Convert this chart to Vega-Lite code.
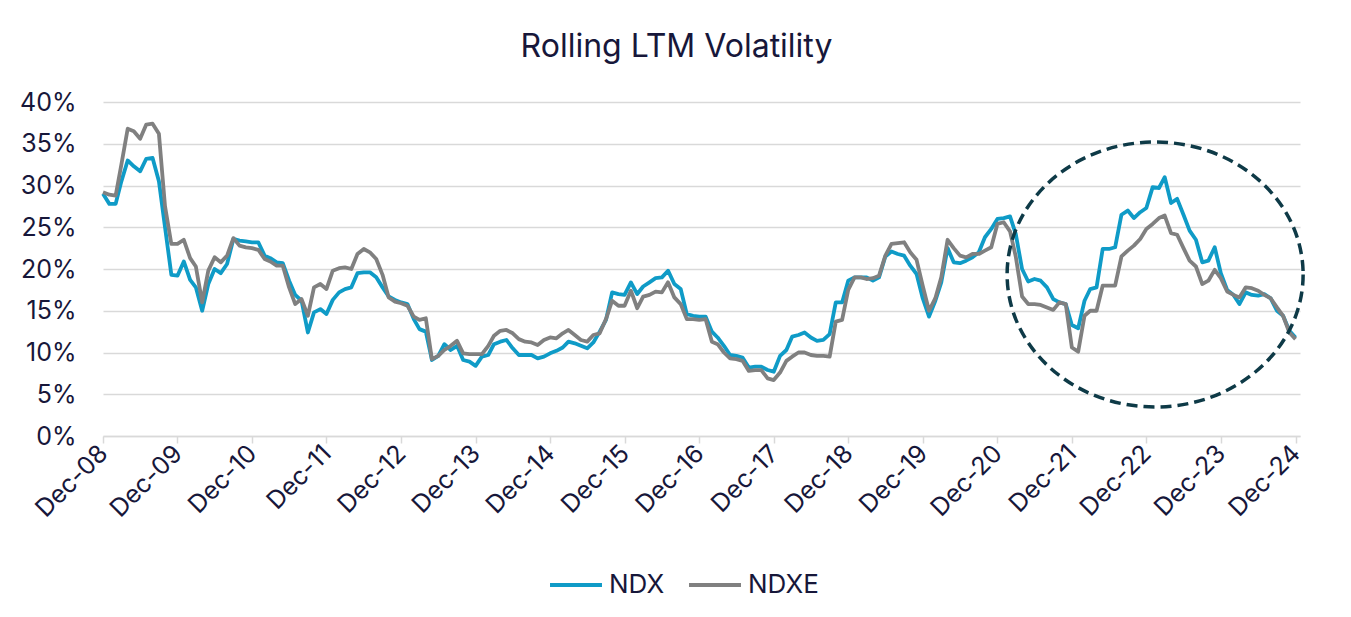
{
"$schema":"https://vega.github.io/schema/vega-lite/v6.json",
"width":1197,"height":334,
"autosize":{"type":"none"},
"padding":{"left":103,"top":102,"right":51,"bottom":181},
"background":"white",
"config":{"view":{"stroke":null},"font":"Inter"},
"title":{"text":"Rolling LTM Volatility","fontSize":32,"fontWeight":"normal","color":"#17173a","anchor":"middle","dx":-25,"offset":26,"font":"Inter"},
"layer":[
{"data":{"values":[
{"date":"2008-12-01","NDX":29.0,"NDXE":29.2},
{"date":"2009-01-01","NDX":27.8,"NDXE":28.9},
{"date":"2009-02-01","NDX":27.8,"NDXE":28.8},
{"date":"2009-03-01","NDX":30.5,"NDXE":32.5},
{"date":"2009-04-01","NDX":33.0,"NDXE":36.8},
{"date":"2009-05-01","NDX":32.3,"NDXE":36.5},
{"date":"2009-06-01","NDX":31.7,"NDXE":35.6},
{"date":"2009-07-01","NDX":33.2,"NDXE":37.3},
{"date":"2009-08-01","NDX":33.3,"NDXE":37.4},
{"date":"2009-09-01","NDX":30.5,"NDXE":36.2},
{"date":"2009-10-01","NDX":25.0,"NDXE":27.5},
{"date":"2009-11-01","NDX":19.3,"NDXE":23.0},
{"date":"2009-12-01","NDX":19.2,"NDXE":23.0},
{"date":"2010-01-01","NDX":20.9,"NDXE":23.5},
{"date":"2010-02-01","NDX":18.7,"NDXE":21.3},
{"date":"2010-03-01","NDX":17.8,"NDXE":20.3},
{"date":"2010-04-01","NDX":15.0,"NDXE":16.0},
{"date":"2010-05-01","NDX":18.2,"NDXE":19.8},
{"date":"2010-06-01","NDX":20.0,"NDXE":21.4},
{"date":"2010-07-01","NDX":19.5,"NDXE":20.8},
{"date":"2010-08-01","NDX":20.6,"NDXE":21.6},
{"date":"2010-09-01","NDX":23.6,"NDXE":23.7},
{"date":"2010-10-01","NDX":23.4,"NDXE":22.8},
{"date":"2010-11-01","NDX":23.3,"NDXE":22.6},
{"date":"2010-12-01","NDX":23.2,"NDXE":22.5},
{"date":"2011-01-01","NDX":23.2,"NDXE":22.3},
{"date":"2011-02-01","NDX":21.6,"NDXE":21.2},
{"date":"2011-03-01","NDX":21.3,"NDXE":20.9},
{"date":"2011-04-01","NDX":20.8,"NDXE":20.4},
{"date":"2011-05-01","NDX":20.7,"NDXE":20.4},
{"date":"2011-06-01","NDX":18.6,"NDXE":17.8},
{"date":"2011-07-01","NDX":16.9,"NDXE":15.8},
{"date":"2011-08-01","NDX":16.2,"NDXE":16.4},
{"date":"2011-09-01","NDX":12.4,"NDXE":14.4},
{"date":"2011-10-01","NDX":14.8,"NDXE":17.8},
{"date":"2011-11-01","NDX":15.2,"NDXE":18.2},
{"date":"2011-12-01","NDX":14.6,"NDXE":17.6},
{"date":"2012-01-01","NDX":16.3,"NDXE":19.8},
{"date":"2012-02-01","NDX":17.2,"NDXE":20.1},
{"date":"2012-03-01","NDX":17.6,"NDXE":20.2},
{"date":"2012-04-01","NDX":17.8,"NDXE":20.0},
{"date":"2012-05-01","NDX":19.5,"NDXE":21.8},
{"date":"2012-06-01","NDX":19.6,"NDXE":22.4},
{"date":"2012-07-01","NDX":19.6,"NDXE":22.0},
{"date":"2012-08-01","NDX":19.0,"NDXE":21.2},
{"date":"2012-09-01","NDX":17.8,"NDXE":19.3},
{"date":"2012-10-01","NDX":16.7,"NDXE":16.6},
{"date":"2012-11-01","NDX":16.3,"NDXE":16.1},
{"date":"2012-12-01","NDX":16.0,"NDXE":15.9},
{"date":"2013-01-01","NDX":15.8,"NDXE":15.6},
{"date":"2013-02-01","NDX":14.0,"NDXE":14.3},
{"date":"2013-03-01","NDX":12.8,"NDXE":13.9},
{"date":"2013-04-01","NDX":12.5,"NDXE":14.1},
{"date":"2013-05-01","NDX":9.1,"NDXE":9.2},
{"date":"2013-06-01","NDX":9.6,"NDXE":9.6},
{"date":"2013-07-01","NDX":11.0,"NDXE":10.3},
{"date":"2013-08-01","NDX":10.3,"NDXE":10.8},
{"date":"2013-09-01","NDX":10.8,"NDXE":11.4},
{"date":"2013-10-01","NDX":9.1,"NDXE":9.9},
{"date":"2013-11-01","NDX":8.9,"NDXE":9.8},
{"date":"2013-12-01","NDX":8.4,"NDXE":9.8},
{"date":"2014-01-01","NDX":9.5,"NDXE":9.8},
{"date":"2014-02-01","NDX":9.7,"NDXE":10.8},
{"date":"2014-03-01","NDX":11.0,"NDXE":12.0},
{"date":"2014-04-01","NDX":11.3,"NDXE":12.6},
{"date":"2014-05-01","NDX":11.5,"NDXE":12.7},
{"date":"2014-06-01","NDX":10.5,"NDXE":12.3},
{"date":"2014-07-01","NDX":9.7,"NDXE":11.6},
{"date":"2014-08-01","NDX":9.7,"NDXE":11.3},
{"date":"2014-09-01","NDX":9.7,"NDXE":11.2},
{"date":"2014-10-01","NDX":9.3,"NDXE":10.9},
{"date":"2014-11-01","NDX":9.5,"NDXE":11.5},
{"date":"2014-12-01","NDX":9.9,"NDXE":11.8},
{"date":"2015-01-01","NDX":10.2,"NDXE":11.7},
{"date":"2015-02-01","NDX":10.6,"NDXE":12.3},
{"date":"2015-03-01","NDX":11.3,"NDXE":12.7},
{"date":"2015-04-01","NDX":11.1,"NDXE":12.1},
{"date":"2015-05-01","NDX":10.8,"NDXE":11.5},
{"date":"2015-06-01","NDX":10.5,"NDXE":11.3},
{"date":"2015-07-01","NDX":11.2,"NDXE":12.1},
{"date":"2015-08-01","NDX":12.5,"NDXE":12.3},
{"date":"2015-09-01","NDX":13.9,"NDXE":14.0},
{"date":"2015-10-01","NDX":17.2,"NDXE":16.2},
{"date":"2015-11-01","NDX":17.0,"NDXE":15.6},
{"date":"2015-12-01","NDX":16.9,"NDXE":15.6},
{"date":"2016-01-01","NDX":18.4,"NDXE":17.4},
{"date":"2016-02-01","NDX":17.0,"NDXE":15.3},
{"date":"2016-03-01","NDX":17.9,"NDXE":16.7},
{"date":"2016-04-01","NDX":18.4,"NDXE":16.9},
{"date":"2016-05-01","NDX":18.9,"NDXE":17.3},
{"date":"2016-06-01","NDX":19.0,"NDXE":17.2},
{"date":"2016-07-01","NDX":19.8,"NDXE":18.4},
{"date":"2016-08-01","NDX":18.2,"NDXE":16.6},
{"date":"2016-09-01","NDX":17.6,"NDXE":15.8},
{"date":"2016-10-01","NDX":14.6,"NDXE":14.0},
{"date":"2016-11-01","NDX":14.4,"NDXE":14.0},
{"date":"2016-12-01","NDX":14.3,"NDXE":13.9},
{"date":"2017-01-01","NDX":14.3,"NDXE":14.0},
{"date":"2017-02-01","NDX":12.5,"NDXE":11.3},
{"date":"2017-03-01","NDX":11.8,"NDXE":11.0},
{"date":"2017-04-01","NDX":10.8,"NDXE":10.0},
{"date":"2017-05-01","NDX":9.7,"NDXE":9.3},
{"date":"2017-06-01","NDX":9.6,"NDXE":9.2},
{"date":"2017-07-01","NDX":9.4,"NDXE":9.0},
{"date":"2017-08-01","NDX":8.2,"NDXE":7.8},
{"date":"2017-09-01","NDX":8.3,"NDXE":7.9},
{"date":"2017-10-01","NDX":8.3,"NDXE":7.9},
{"date":"2017-11-01","NDX":7.9,"NDXE":6.9},
{"date":"2017-12-01","NDX":7.7,"NDXE":6.7},
{"date":"2018-01-01","NDX":9.6,"NDXE":7.6},
{"date":"2018-02-01","NDX":10.3,"NDXE":9.0},
{"date":"2018-03-01","NDX":11.9,"NDXE":9.5},
{"date":"2018-04-01","NDX":12.1,"NDXE":10.0},
{"date":"2018-05-01","NDX":12.4,"NDXE":10.0},
{"date":"2018-06-01","NDX":11.8,"NDXE":9.7},
{"date":"2018-07-01","NDX":11.4,"NDXE":9.6},
{"date":"2018-08-01","NDX":11.5,"NDXE":9.6},
{"date":"2018-09-01","NDX":12.2,"NDXE":9.5},
{"date":"2018-10-01","NDX":16.0,"NDXE":13.7},
{"date":"2018-11-01","NDX":16.0,"NDXE":13.9},
{"date":"2018-12-01","NDX":18.6,"NDXE":17.5},
{"date":"2019-01-01","NDX":19.0,"NDXE":19.0},
{"date":"2019-02-01","NDX":19.0,"NDXE":19.0},
{"date":"2019-03-01","NDX":19.0,"NDXE":18.8},
{"date":"2019-04-01","NDX":18.6,"NDXE":18.9},
{"date":"2019-05-01","NDX":19.0,"NDXE":19.2},
{"date":"2019-06-01","NDX":21.5,"NDXE":21.6},
{"date":"2019-07-01","NDX":22.1,"NDXE":23.0},
{"date":"2019-08-01","NDX":21.8,"NDXE":23.1},
{"date":"2019-09-01","NDX":21.6,"NDXE":23.2},
{"date":"2019-10-01","NDX":20.4,"NDXE":22.0},
{"date":"2019-11-01","NDX":19.4,"NDXE":21.1},
{"date":"2019-12-01","NDX":16.5,"NDXE":18.0},
{"date":"2020-01-01","NDX":14.3,"NDXE":15.0},
{"date":"2020-02-01","NDX":16.2,"NDXE":16.5},
{"date":"2020-03-01","NDX":18.4,"NDXE":19.0},
{"date":"2020-04-01","NDX":22.5,"NDXE":23.5},
{"date":"2020-05-01","NDX":20.8,"NDXE":22.5},
{"date":"2020-06-01","NDX":20.7,"NDXE":21.6},
{"date":"2020-07-01","NDX":21.0,"NDXE":21.4},
{"date":"2020-08-01","NDX":21.4,"NDXE":21.8},
{"date":"2020-09-01","NDX":22.0,"NDXE":21.8},
{"date":"2020-10-01","NDX":23.8,"NDXE":22.2},
{"date":"2020-11-01","NDX":24.8,"NDXE":22.6},
{"date":"2020-12-01","NDX":26.0,"NDXE":25.4},
{"date":"2021-01-01","NDX":26.1,"NDXE":25.6},
{"date":"2021-02-01","NDX":26.3,"NDXE":24.5},
{"date":"2021-03-01","NDX":24.2,"NDXE":21.5},
{"date":"2021-04-01","NDX":20.0,"NDXE":16.7},
{"date":"2021-05-01","NDX":18.5,"NDXE":15.8},
{"date":"2021-06-01","NDX":18.8,"NDXE":15.8},
{"date":"2021-07-01","NDX":18.6,"NDXE":15.7},
{"date":"2021-08-01","NDX":17.8,"NDXE":15.4},
{"date":"2021-09-01","NDX":16.4,"NDXE":15.1},
{"date":"2021-10-01","NDX":16.0,"NDXE":16.0},
{"date":"2021-11-01","NDX":15.8,"NDXE":15.8},
{"date":"2021-12-01","NDX":13.3,"NDXE":10.6},
{"date":"2022-01-01","NDX":12.9,"NDXE":10.1},
{"date":"2022-02-01","NDX":16.2,"NDXE":14.4},
{"date":"2022-03-01","NDX":17.6,"NDXE":15.0},
{"date":"2022-04-01","NDX":17.8,"NDXE":15.0},
{"date":"2022-05-01","NDX":22.4,"NDXE":18.0},
{"date":"2022-06-01","NDX":22.4,"NDXE":18.0},
{"date":"2022-07-01","NDX":22.6,"NDXE":18.0},
{"date":"2022-08-01","NDX":26.5,"NDXE":21.5},
{"date":"2022-09-01","NDX":27.0,"NDXE":22.2},
{"date":"2022-10-01","NDX":26.1,"NDXE":22.8},
{"date":"2022-11-01","NDX":26.8,"NDXE":23.6},
{"date":"2022-12-01","NDX":27.3,"NDXE":24.8},
{"date":"2023-01-01","NDX":29.8,"NDXE":25.4},
{"date":"2023-02-01","NDX":29.7,"NDXE":26.1},
{"date":"2023-03-01","NDX":31.0,"NDXE":26.4},
{"date":"2023-04-01","NDX":27.9,"NDXE":24.3},
{"date":"2023-05-01","NDX":28.4,"NDXE":24.1},
{"date":"2023-06-01","NDX":26.5,"NDXE":22.5},
{"date":"2023-07-01","NDX":24.6,"NDXE":21.0},
{"date":"2023-08-01","NDX":23.5,"NDXE":20.3},
{"date":"2023-09-01","NDX":20.8,"NDXE":18.2},
{"date":"2023-10-01","NDX":21.0,"NDXE":18.6},
{"date":"2023-11-01","NDX":22.6,"NDXE":19.9},
{"date":"2023-12-01","NDX":19.5,"NDXE":18.9},
{"date":"2024-01-01","NDX":17.5,"NDXE":17.3},
{"date":"2024-02-01","NDX":16.9,"NDXE":16.9},
{"date":"2024-03-01","NDX":15.8,"NDXE":16.6},
{"date":"2024-04-01","NDX":17.2,"NDXE":17.8},
{"date":"2024-05-01","NDX":16.9,"NDXE":17.7},
{"date":"2024-06-01","NDX":16.8,"NDXE":17.4},
{"date":"2024-07-01","NDX":17.0,"NDXE":16.9},
{"date":"2024-08-01","NDX":16.5,"NDXE":16.5},
{"date":"2024-09-01","NDX":15.0,"NDXE":15.4},
{"date":"2024-10-01","NDX":14.4,"NDXE":14.4},
{"date":"2024-11-01","NDX":12.6,"NDXE":12.4},
{"date":"2024-12-01","NDX":11.8,"NDXE":11.6}
]},
"transform":[{"fold":["NDX","NDXE"],"as":["series","value"]}],
"mark":{"type":"line","strokeWidth":3.8,"strokeJoin":"round"},
"encoding":{
"x":{"field":"date","type":"temporal","title":null,
"scale":{"domain":[{"year":2008,"month":12,"date":1},{"year":2024,"month":12,"date":23}]},
"axis":{"values":[{"year":2008,"month":12,"date":1},{"year":2009,"month":12,"date":1},{"year":2010,"month":12,"date":1},{"year":2011,"month":12,"date":1},{"year":2012,"month":12,"date":1},{"year":2013,"month":12,"date":1},{"year":2014,"month":12,"date":1},{"year":2015,"month":12,"date":1},{"year":2016,"month":12,"date":1},{"year":2017,"month":12,"date":1},{"year":2018,"month":12,"date":1},{"year":2019,"month":12,"date":1},{"year":2020,"month":12,"date":1},{"year":2021,"month":12,"date":1},{"year":2022,"month":12,"date":1},{"year":2023,"month":12,"date":1},{"year":2024,"month":12,"date":1}],
"format":"%b-%y","labelAngle":-45,"labelAlign":"right","labelBaseline":"middle","labelFontSize":25,"labelColor":"#17173a","labelFont":"Inter","labelPadding":6,"labelOverlap":false,"labelFlush":false,
"grid":false,"domainColor":"#d9d9d9","domainWidth":1.5,"tickColor":"#d9d9d9","tickWidth":1.5,"tickSize":7}},
"y":{"field":"value","type":"quantitative","title":null,
"scale":{"domain":[0,40],"nice":false},
"axis":{"values":[0,5,10,15,20,25,30,35,40],"labelExpr":"datum.value + '%'","labelFontSize":25,"labelColor":"#17173a","labelFont":"Inter","labelPadding":27,"ticks":false,"domain":false,"gridColor":"#d9d9d9","gridWidth":1.5}},
"color":{"field":"series","type":"nominal","scale":{"domain":["NDX","NDXE"],"range":["#0f9bc7","#808080"]},
"legend":{"title":null,"orient":"none","legendX":445,"legendY":455,"direction":"horizontal","symbolType":"stroke","symbolSize":2700,"symbolStrokeWidth":4,"labelFontSize":26,"labelColor":"#17173a","labelFont":"Inter","labelOffset":5,"columnPadding":16,"padding":0}}
}},
{"data":{"values":[{"date":"2023-01-13","value":19.34}]},
"mark":{"type":"point","shape":"M 1 0 C 1 0.494 0.5523 0.895 0 0.895 C -0.5523 0.895 -1 0.494 -1 0 C -1 -0.494 -0.5523 -0.895 0 -0.895 C 0.5523 -0.895 1 -0.494 1 0 Z","size":87616,"filled":false,"stroke":"#0e3a47","strokeWidth":3.5,"strokeDash":[11,6],"opacity":1},
"encoding":{"x":{"field":"date","type":"temporal","title":null},"y":{"field":"value","type":"quantitative","title":null}}}
]
}
